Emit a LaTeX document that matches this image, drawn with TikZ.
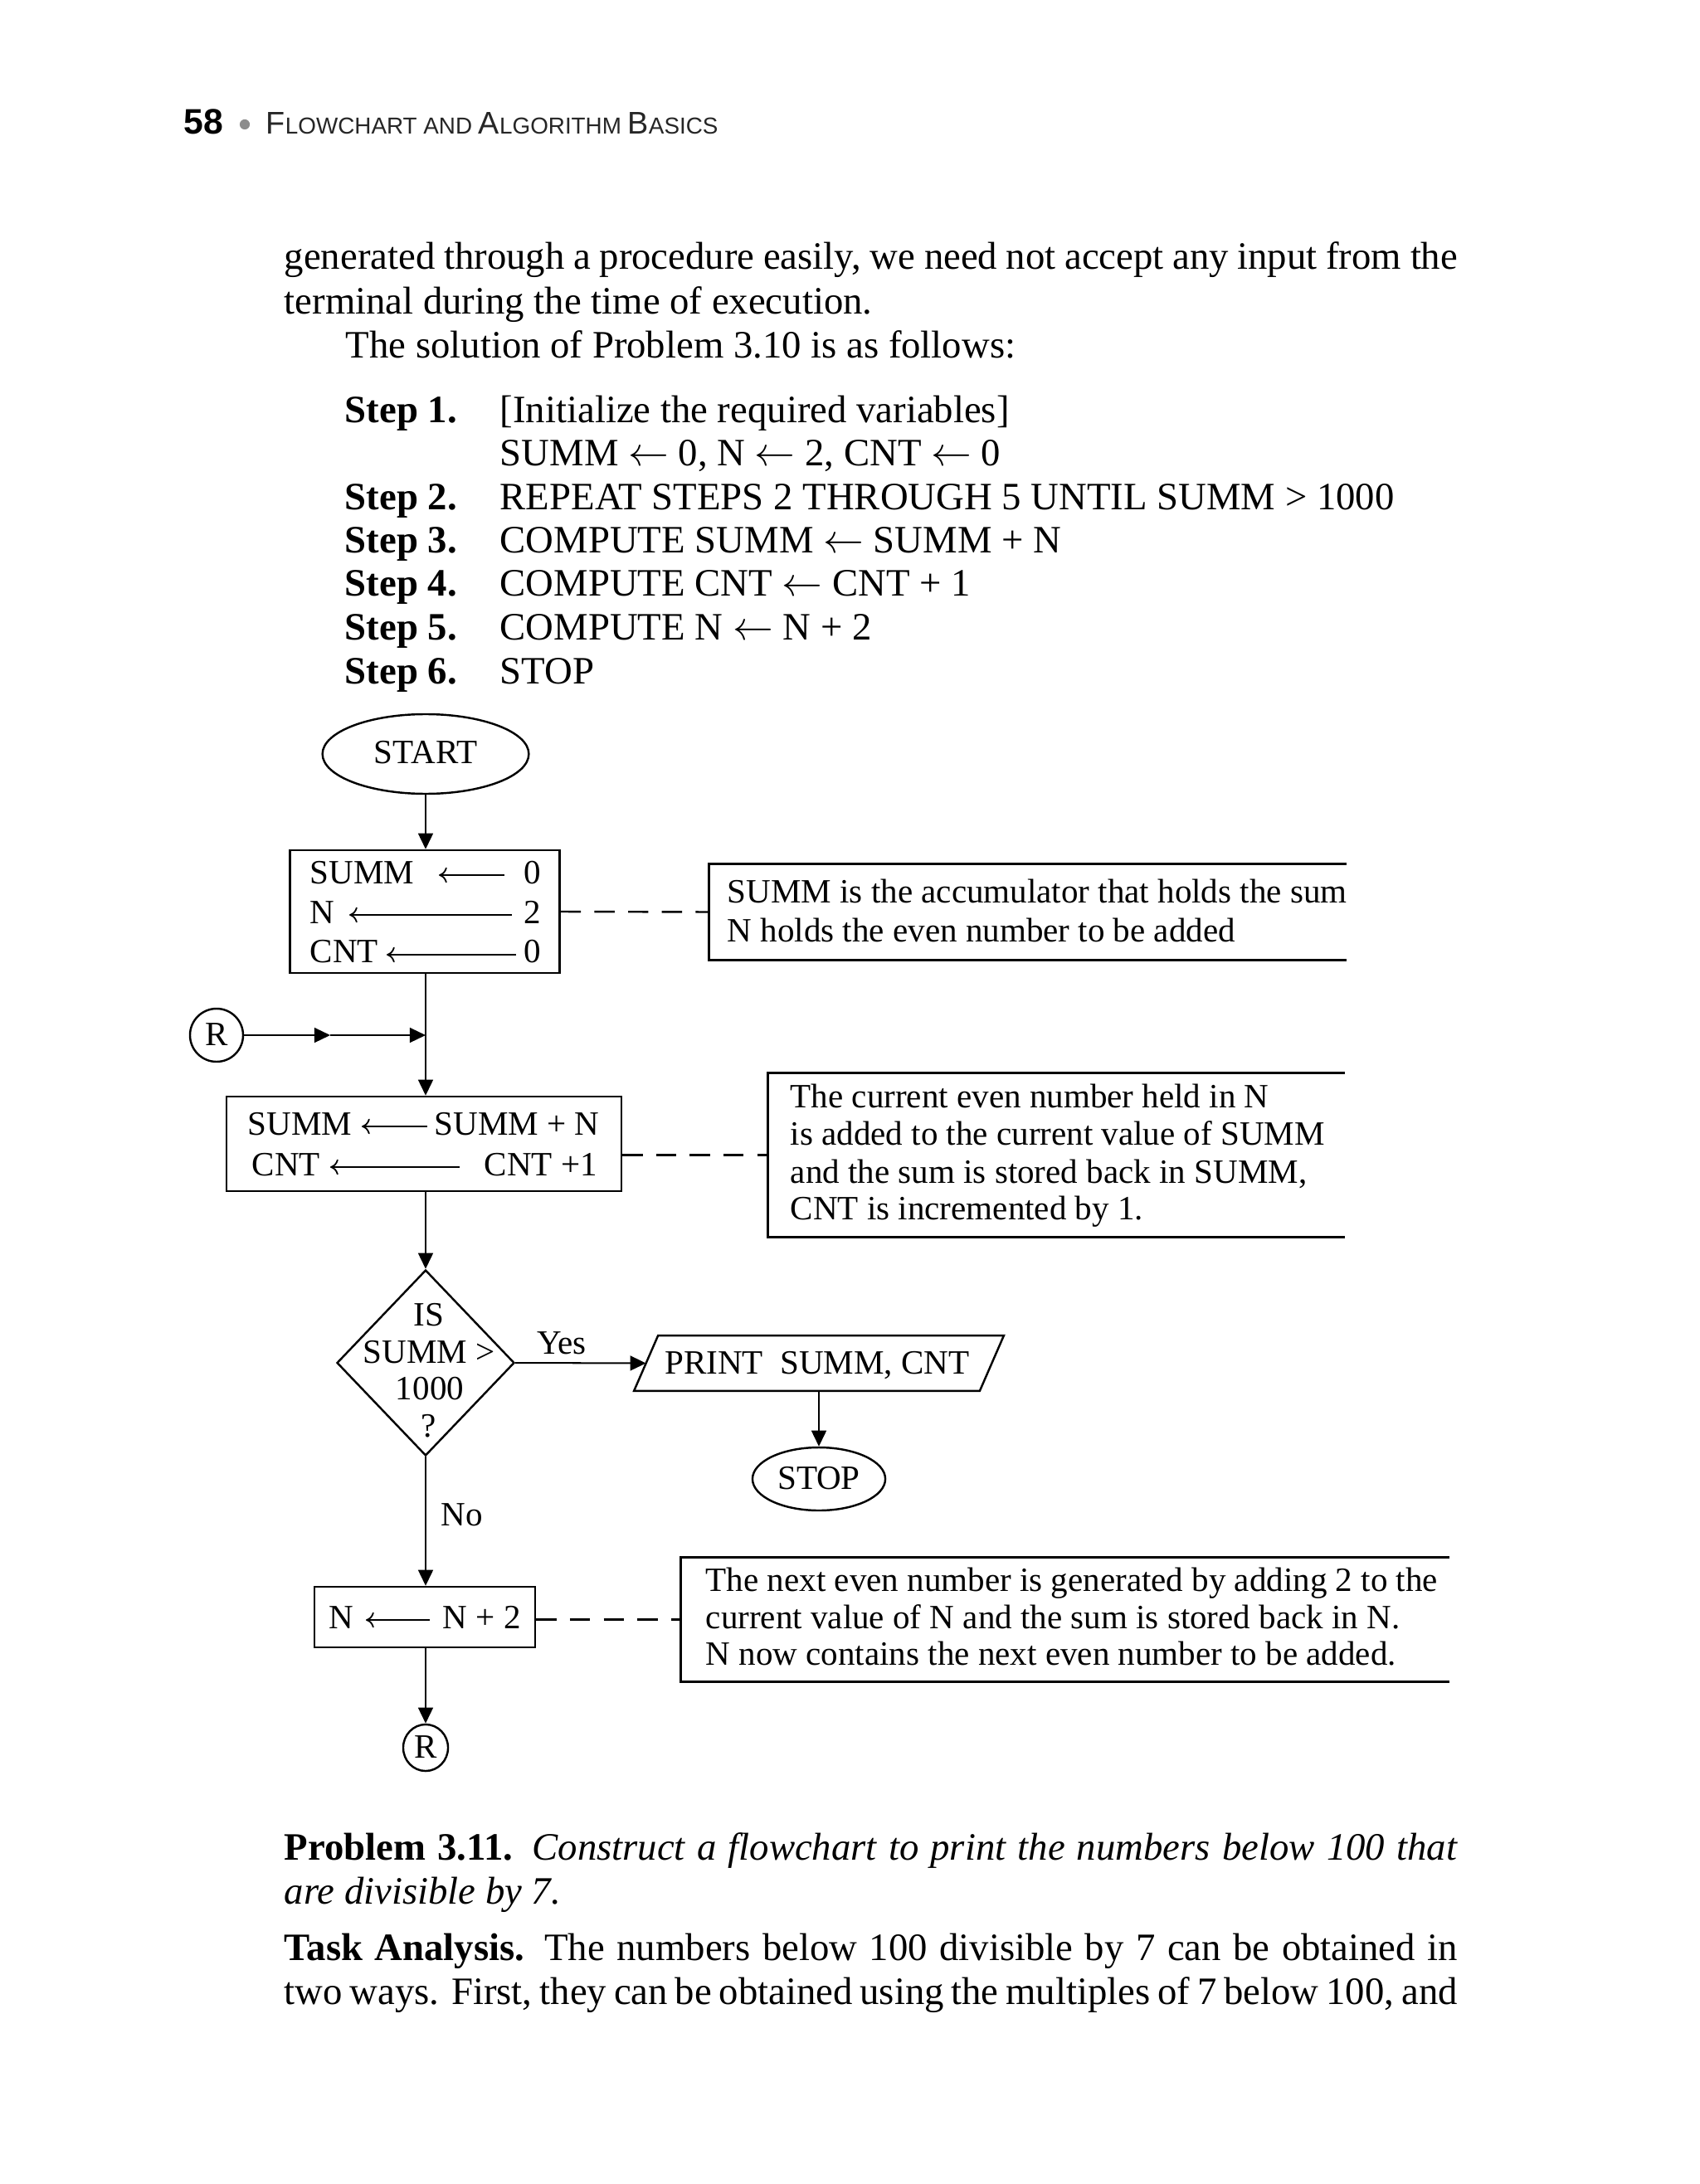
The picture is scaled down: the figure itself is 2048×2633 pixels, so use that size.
\documentclass[tikz,border=0pt]{standalone}
\usepackage{fontspec}
\setmainfont{Liberation Serif}
\newfontfamily\hdrfont{Liberation Sans}
\usetikzlibrary{shapes.geometric,arrows.meta,calc}
\begin{document}
\begin{tikzpicture}[x=0.24609pt,y=-0.24609pt,
  body/.style={inner sep=0pt,anchor=base west,font=\fontsize{11.5}{13}\selectfont},
  dtxt/.style={inner sep=0pt,anchor=base west,font=\fontsize{10.1}{12}\selectfont},
  flow/.style={line width=0.5pt,-{Triangle[length=4.7pt,width=4.4pt]}},
  plainline/.style={line width=0.5pt},
  inarr/.style={line width=0.45pt,-{Computer Modern Rightarrow[length=2.4pt,width=4.6pt]}},
  boxst/.style={draw,line width=0.6pt,inner sep=0pt,rectangle},
  termst/.style={draw,line width=0.6pt,inner sep=0pt,ellipse},
  notest/.style={inner sep=0pt,rectangle},
  noteline/.style={line width=0.7pt},
  dashst/.style={line width=0.6pt,dash pattern=on 6pt off 4pt}
]
\useasboundingbox (0,0) rectangle (2048,2633);

% ---------- header ----------
\node[inner sep=0pt,anchor=base west,font=\hdrfont\bfseries\fontsize{10.5}{12}\selectfont] (pg) at (221,162) {58};
\node[circle,fill=black!45,inner sep=0pt,minimum size=3pt] (bul) at (295,150) {};
\node[inner sep=0pt,anchor=base west,font=\hdrfont,text=black!85] (hdr) at (320,162)
  {\fontsize{9.3}{10}\selectfont F\fontsize{6.85}{8}\selectfont LOWCHART AND \fontsize{9.3}{10}\selectfont A\fontsize{6.85}{8}\selectfont LGORITHM \fontsize{9.3}{10}\selectfont B\fontsize{6.85}{8}\selectfont ASICS};

% ---------- body text ----------
\node[body] (l1) at (342,325) {\makebox[348pt][s]{generated through a procedure easily, we need not accept any input from the}};
\node[body] (l2) at (342,379) {terminal during the time of execution.};
\node[body] (l3) at (416,432) {The solution of Problem 3.10 is as follows:};

\node[body] (s1) at (415,510) {\textbf{Step 1.}};
\node[body] (t1) at (602,510) {[Initialize the required variables]};
\node[body] (t1b) at (602,562) {SUMM $\leftarrow$ 0, N $\leftarrow$ 2, CNT $\leftarrow$ 0};
\node[body] (s2) at (415,615) {\textbf{Step 2.}};
\node[body] (t2) at (602,615) {REPEAT STEPS 2 THROUGH 5 UNTIL SUMM > 1000};
\node[body] (s3) at (415,667) {\textbf{Step 3.}};
\node[body] (t3) at (602,667) {COMPUTE SUMM $\leftarrow$ SUMM + N};
\node[body] (s4) at (415,719) {\textbf{Step 4.}};
\node[body] (t4) at (602,719) {COMPUTE CNT $\leftarrow$ CNT + 1};
\node[body] (s5) at (415,772) {\textbf{Step 5.}};
\node[body] (t5) at (602,772) {COMPUTE N $\leftarrow$ N + 2};
\node[body] (s6) at (415,825) {\textbf{Step 6.}};
\node[body] (t6) at (602,825) {STOP};

% ---------- flowchart nodes ----------
\node[termst,minimum width=61.2pt,minimum height=23.62pt] (start) at (513,909) {};
\node[dtxt,anchor=base] (startt) at (513,921) {START};

\node[boxst,minimum width=80.0pt,minimum height=36.42pt] (box1) at (512,1099) {};
\node[dtxt] (b1a) at (373,1065) {SUMM};
\node[dtxt] (b1b) at (631,1065) {0};
\node[dtxt] (b1c) at (373,1113) {N};
\node[dtxt] (b1d) at (631,1113) {2};
\node[dtxt] (b1e) at (373,1160) {CNT};
\node[dtxt] (b1f) at (631,1160) {0};
\coordinate (a1s) at (608,1055); \coordinate (a1e) at (529,1055);
\coordinate (a2s) at (617,1103); \coordinate (a2e) at (421,1103);
\coordinate (a3s) at (622,1151); \coordinate (a3e) at (466,1151);
\draw[inarr] (a1s) -- (a1e);
\draw[inarr] (a2s) -- (a2e);
\draw[inarr] (a3s) -- (a3e);

\node[notest,minimum width=188.7pt,minimum height=28.3pt] (note1) at (1238.5,1099.5) {};
\draw[noteline] (note1.north east) -- (note1.north west) -- (note1.south west) -- (note1.south east);
\node[dtxt] (n1a) at (876,1088) {SUMM is the accumulator that holds the sum};
\node[dtxt] (n1b) at (876,1135) {N holds the even number to be added};

\node[circle,draw,line width=0.6pt,inner sep=0pt,minimum size=15.75pt] (R1) at (261,1248) {};
\node[dtxt,anchor=base] (R1t) at (261,1260) {R};
\coordinate (rm) at (398,1248);
\coordinate (jn) at (513,1248);

\node[boxst,minimum width=117.1pt,minimum height=28.05pt] (box2) at (511,1379) {};
\node[dtxt] (b2a) at (298,1368) {SUMM};
\node[dtxt] (b2b) at (523,1368) {SUMM + N};
\node[dtxt] (b2c) at (303,1417) {CNT};
\node[dtxt] (b2d) at (583,1417) {CNT +1};
\coordinate (a4s) at (515,1358); \coordinate (a4e) at (436,1358);
\coordinate (a5s) at (554,1407); \coordinate (a5e) at (398,1407);
\draw[inarr] (a4s) -- (a4e);
\draw[inarr] (a5s) -- (a5e);

\node[notest,minimum width=170.8pt,minimum height=48.48pt] (note2) at (1273,1392.5) {};
\draw[noteline] (note2.north east) -- (note2.north west) -- (note2.south west) -- (note2.south east);
\node[dtxt] (n2a) at (952,1335) {The current even number held in N};
\node[dtxt] (n2b) at (952,1380) {is added to the current value of SUMM};
\node[dtxt] (n2c) at (952,1426) {and the sum is stored back in SUMM,};
\node[dtxt] (n2d) at (952,1470) {CNT is incremented by 1.};

\node[diamond,draw,line width=0.6pt,inner sep=0pt,minimum width=52.66pt,minimum height=55.12pt] (dia) at (513,1643) {};
\node[dtxt,anchor=base] (d1) at (517,1598) {IS};
\node[dtxt,anchor=base] (d2) at (517,1643) {SUMM >};
\node[dtxt,anchor=base] (d3) at (518,1687) {1000};
\node[dtxt,anchor=base] (d4) at (517,1732) {?};
\node[dtxt,anchor=base] (yes) at (677,1632) {Yes};
\node[dtxt,anchor=base] (no) at (557,1839) {No};

\node[notest,minimum width=109.3pt,minimum height=16pt] (par) at (987,1643.5) {};
\draw[line width=0.6pt] (par.south west) -- ($(par.north west)+(29,0)$) -- (par.north east) -- ($(par.south east)-(29,0)$) -- cycle;
\node[dtxt,anchor=base] (part) at (985,1656) {PRINT\ \ SUMM, CNT};
\coordinate (pin) at ($(par.west)+(14.5,0)$);

\node[termst,minimum width=39.4pt,minimum height=18.7pt] (stop) at (987,1783) {};
\node[dtxt,anchor=base] (stopt) at (987,1795) {STOP};

\node[boxst,minimum width=65.46pt,minimum height=17.96pt] (box3) at (512,1949.5) {};
\node[dtxt] (b3a) at (396,1963) {N};
\node[dtxt] (b3b) at (533,1963) {N + 2};
\coordinate (a6s) at (518,1953); \coordinate (a6e) at (441,1953);
\draw[inarr] (a6s) -- (a6e);

\node[notest,minimum width=227.6pt,minimum height=36.67pt] (note3) at (1283.5,1952.5) {};
\draw[noteline] (note3.north east) -- (note3.north west) -- (note3.south west) -- (note3.south east);
\node[dtxt] (n3a) at (850,1918) {The next even number is generated by adding 2 to the};
\node[dtxt] (n3b) at (850,1963) {current value of N and the sum is stored back in N.};
\node[dtxt] (n3c) at (850,2007) {N now contains the next even number to be added.};

\node[ellipse,draw,line width=0.6pt,inner sep=0pt,minimum width=13.3pt,minimum height=13.8pt] (R2) at (513,2107) {};
\node[dtxt,anchor=base] (R2t) at (513,2119) {R};

% ---------- connectors ----------
\draw[flow] (start.south) -- (start.south |- box1.north);
\draw[flow] (start.south |- box1.south) -- (start.south |- box2.north);
\draw[flow] (R1.east) -- (rm);
\draw[flow] (rm) -- (jn);
\draw[flow] (start.south |- box2.south) -- (dia.north);
\draw[flow] (dia.east) -- (pin);
\draw[flow] (par.south) -- (stop.north);
\draw[flow] (dia.south) -- (dia.south |- box3.north);
\draw[flow] (dia.south |- box3.south) -- (R2.north);
\draw[dashst] (box1.east) -- (note1.west);
\draw[dashst] (note2.west -| box2.east) -- (note2.west);
\draw[dashst] (note3.west -| box3.east) -- (note3.west);

% ---------- bottom text ----------
\node[body] (p1) at (342,2242) {\makebox[348pt][s]{\textbf{Problem 3.11.} \textit{Construct a flowchart to print the numbers below 100 that}}};
\node[body] (p2) at (342,2295) {\textit{are divisible by 7.}};
\node[body] (p3) at (342,2363) {\makebox[348pt][s]{\textbf{Task Analysis.} The numbers below 100 divisible by 7 can be obtained in}};
\node[body] (p4) at (342,2416) {\makebox[348pt][s]{two ways. First, they can be obtained using the multiples of 7 below 100, and}};
\end{tikzpicture}
\end{document}
